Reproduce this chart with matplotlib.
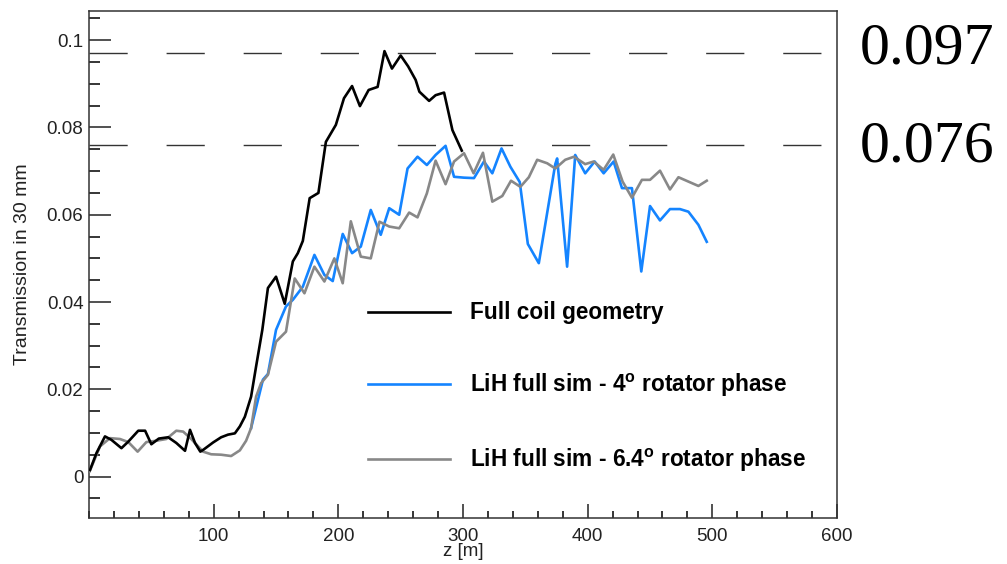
import numpy as np
import matplotlib
matplotlib.use("Agg")
import matplotlib.pyplot as plt
from matplotlib.ticker import MultipleLocator, FixedLocator

plt.rcParams['font.family'] = ['Liberation Sans', 'DejaVu Sans']
plt.rcParams['mathtext.fontset'] = 'custom'
plt.rcParams['mathtext.bf'] = 'Liberation Sans:bold'
plt.rcParams['mathtext.rm'] = 'Liberation Sans'

# transmission vs. z for the three lattice configurations
full_z = [0.8, 6, 12.8, 18, 26, 31.5, 39.5, 45, 50, 56, 63.5, 70, 77, 81, 85, 89.3, 92,
          99.5, 106, 111.5, 117, 121, 125, 130, 134, 139, 143.5, 150, 157, 163.5, 167.5,
          171.5, 177, 184, 190, 198, 204.5, 211, 217.3, 224.3, 231.5, 237, 243, 250, 256,
          262, 265, 272.8, 278, 284.8, 291.5, 299]
full_t = [0.0015, 0.0054, 0.0092, 0.0084, 0.0065, 0.0080, 0.0105, 0.0105, 0.0074, 0.0087,
          0.0090, 0.0077, 0.0059, 0.0107, 0.0077, 0.0057, 0.0062, 0.0078, 0.0090, 0.0096,
          0.0099, 0.0115, 0.0137, 0.0183, 0.0252, 0.0336, 0.0432, 0.0458, 0.0396, 0.0493,
          0.0512, 0.0540, 0.0638, 0.0650, 0.0767, 0.0806, 0.0867, 0.0895, 0.0849, 0.0886,
          0.0893, 0.0975, 0.0935, 0.0965, 0.0940, 0.0909, 0.0882, 0.0861, 0.0874, 0.0880,
          0.0794, 0.0747]

lih4_z = [130, 139.5, 143.5, 150, 158, 163.5, 171.5, 180.8, 188.8, 195.5, 203.5, 211, 218,
          226, 234, 240.8, 248.8, 255.5, 263.5, 271, 278, 286, 292.8, 300.8, 308.8, 316.8,
          323.5, 330.9, 338, 345.5, 352, 360.8, 374, 375.5, 383.5, 390, 398, 405.6, 412.8,
          420.8, 427.5, 435.5, 443, 450, 458, 466, 474, 480.8, 488.8, 495.5]
lih4_t = [0.0111, 0.0222, 0.0235, 0.0336, 0.0390, 0.0405, 0.0435, 0.0508, 0.0462, 0.0448,
          0.0556, 0.0512, 0.0527, 0.0611, 0.0554, 0.0615, 0.0600, 0.0706, 0.0733, 0.0714,
          0.0737, 0.0758, 0.0687, 0.0685, 0.0684, 0.0722, 0.0695, 0.0752, 0.0710, 0.0675,
          0.0533, 0.0489, 0.0716, 0.0729, 0.0481, 0.0737, 0.0695, 0.0722, 0.0695, 0.0722,
          0.0661, 0.0661, 0.0470, 0.0620, 0.0587, 0.0613, 0.0613, 0.0607, 0.0577, 0.0538]

lih64_z = [0.5, 8.8, 16.8, 24.8, 31.5, 39, 46, 54, 62, 70, 75.5, 82, 91.5, 98, 106, 114,
           121, 126, 130, 134, 138, 143.5, 150, 158, 165, 172.8, 180.8, 188.8, 196.8, 203.5,
           210, 218, 226, 233, 240.8, 248.8, 256.8, 263.5, 271, 278, 286, 292.8, 300.8,
           308.5, 316, 323.5, 331.5, 338.5, 346, 352.8, 359.5, 367.5, 374, 382, 389, 398,
           404.8, 412.8, 420.5, 428, 435.5, 443.5, 450, 458, 466, 472.8, 480.8, 488.8, 495.5]
lih64_t = [0.0012, 0.0069, 0.0088, 0.0086, 0.0079, 0.0057, 0.0079, 0.0082, 0.0086, 0.0105,
           0.0103, 0.0086, 0.0057, 0.0051, 0.0050, 0.0047, 0.0060, 0.0082, 0.0111, 0.0183,
           0.0214, 0.0233, 0.0309, 0.0332, 0.0454, 0.0420, 0.0481, 0.0447, 0.0500, 0.0443,
           0.0585, 0.0504, 0.0500, 0.0584, 0.0573, 0.0569, 0.0605, 0.0594, 0.0649, 0.0724,
           0.0670, 0.0722, 0.0741, 0.0695, 0.0742, 0.0630, 0.0643, 0.0678, 0.0664, 0.0686,
           0.0726, 0.0718, 0.0706, 0.0726, 0.0733, 0.0716, 0.0722, 0.0703, 0.0738, 0.0676,
           0.0639, 0.0680, 0.0680, 0.0701, 0.0658, 0.0686, 0.0676, 0.0666, 0.0678]

ref_levels = [0.097, 0.076]
ref_labels = ['0.097', '0.076']

fig = plt.figure(figsize=(10.07, 5.64), dpi=100)
ax = fig.add_axes([0.0884, 0.0816, 0.7428, 0.8989])

for lvl in ref_levels:
    ax.axhline(lvl, color='#333333', lw=1.0, dashes=(27.5, 28), zorder=1)

ax.plot(lih4_z, lih4_t, color='#1484ff', lw=1.9, zorder=3,
        label=r'LiH full sim - 4$^{\mathbf{o}}$ rotator phase')
ax.plot(lih64_z, lih64_t, color='#888888', lw=1.9, zorder=4,
        label=r'LiH full sim - 6.4$^{\mathbf{o}}$ rotator phase')
ax.plot(full_z, full_t, color='black', lw=1.9, zorder=5, label='Full coil geometry')

ax.set_xlim(0, 600)
ax.set_ylim(-0.0095, 0.1067)
ax.xaxis.set_major_locator(FixedLocator([100, 200, 300, 400, 500, 600]))
ax.xaxis.set_minor_locator(MultipleLocator(20))
ax.yaxis.set_major_locator(MultipleLocator(0.02))
ax.yaxis.set_minor_locator(MultipleLocator(0.005))
ax.yaxis.set_major_formatter(plt.FuncFormatter(lambda v, p: '0' if abs(v) < 1e-9 else f'{v:g}'))

ax.tick_params(axis='x', which='major', direction='in', length=10, width=1.1,
               labelsize=13.5, pad=7, colors='#222222')
ax.tick_params(axis='x', which='minor', direction='in', length=5, width=1.1)
ax.tick_params(axis='y', which='major', direction='in', length=16, width=1.1,
               labelsize=13.5, pad=4, colors='#222222')
ax.tick_params(axis='y', which='minor', direction='in', length=8, width=1.1)
for s in ax.spines.values():
    s.set_linewidth(1.1)
    s.set_color('#333333')

ax.set_xlabel('z [m]', fontsize=13.5, color='#222222', labelpad=-1)
ax.set_ylabel('Transmission in 30 mm', fontsize=14, color='#222222', labelpad=11)

handles, labels = ax.get_legend_handles_labels()
order = [2, 0, 1]
ax.legend([handles[i] for i in order], [labels[i] for i in order],
          loc='upper left', bbox_to_anchor=(0.373, 0.427), frameon=False,
          prop={'weight': 'bold', 'size': 16.3}, handlelength=3.62, handletextpad=0.88,
          labelspacing=2.1, borderpad=0, borderaxespad=0)

for lvl_txt, ypos in zip(ref_labels, [0.888, 0.713]):
    fig.text(0.854, ypos, lvl_txt, fontsize=43, family='Liberation Serif', va='baseline')

fig.savefig('out.png', dpi=100)
